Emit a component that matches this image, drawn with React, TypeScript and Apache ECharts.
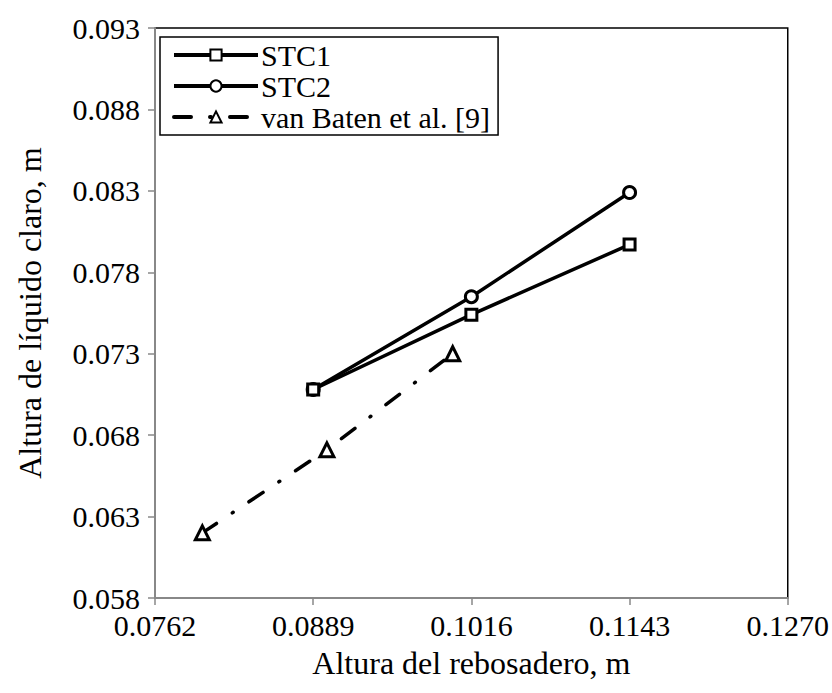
import React, { useEffect, useRef } from "react";
import * as echarts from "echarts";

const stc1X = [0.0889, 0.1016, 0.1143];
const stc1Y = [0.0708, 0.0754, 0.0797];
const stc2X = [0.0889, 0.1016, 0.1143];
const stc2Y = [0.0708, 0.0765, 0.0829];
const vbX = [0.0800, 0.0900, 0.1001];
const vbY = [0.0620, 0.0671, 0.0730];

const xTicks = { min: 0.0762, max: 0.127, interval: 0.0127 };
const yTicks = { min: 0.058, max: 0.093, interval: 0.005 };

const FONT = "Liberation Serif";

function pairs(xs: number[], ys: number[]) {
  return xs.map((x, i) => [x, ys[i]]);
}

export default function App() {
  const ref = useRef<HTMLDivElement>(null);
  useEffect(() => {
    if (!ref.current) return;
    const chart = echarts.init(ref.current, null, { renderer: "svg" });
    const lineW = 3.5;
    const txt = (size: number) => ({
      fontFamily: FONT,
      fontSize: size,
      fontWeight: "normal" as const,
      fontStyle: "normal" as const,
      color: "#000",
    });
    chart.setOption({
      animation: false,
      backgroundColor: "#fff",
      textStyle: txt(30),
      grid: {
        left: 155,
        right: 44,
        top: 28,
        bottom: 95,
        show: true,
        borderColor: "#000",
        borderWidth: 1.5,
        backgroundColor: "transparent",
      },
      legend: {
        left: 160,
        top: 37,
        orient: "vertical",
        itemWidth: 84,
        itemHeight: 14,
        itemGap: 1,
        padding: [3, 8, 3, 12],
        borderColor: "#000",
        borderWidth: 1.5,
        lineStyle: { width: 4, color: "#000" },
        textStyle: { ...txt(30), padding: [0, 0, 0, -2] },
        data: ["STC1", "STC2", "van Baten et al. [9]"],
      },
      xAxis: {
        type: "value",
        min: xTicks.min,
        max: xTicks.max,
        interval: xTicks.interval,
        name: "Altura del rebosadero, m",
        nameLocation: "middle",
        nameGap: 49,
        nameTextStyle: txt(32),
        axisLine: { show: true, lineStyle: { color: "#888", width: 2 } },
        axisTick: { show: true, length: 7, lineStyle: { color: "#888", width: 1.5 } },
        axisLabel: {
          ...txt(30),
          margin: 12,
          formatter: (v: number) => v.toFixed(4),
        },
        splitLine: { show: false },
      },
      yAxis: {
        type: "value",
        min: yTicks.min,
        max: yTicks.max,
        interval: yTicks.interval,
        name: "Altura de líquido claro, m",
        nameLocation: "middle",
        nameGap: 109,
        nameTextStyle: txt(32),
        axisLine: { show: true, lineStyle: { color: "#888", width: 2 } },
        axisTick: { show: true, length: 7, lineStyle: { color: "#888", width: 1.5 } },
        axisLabel: {
          ...txt(30),
          margin: 15,
          formatter: (v: number) => v.toFixed(3),
        },
        splitLine: { show: false },
      },
      series: [
        {
          name: "STC1",
          type: "line",
          data: pairs(stc1X, stc1Y),
          symbol: "rect",
          symbolSize: 11,
          lineStyle: { color: "#000", width: lineW },
          itemStyle: { color: "#fff", borderColor: "#000", borderWidth: 3 },
          z: 3,
        },
        {
          name: "STC2",
          type: "line",
          data: pairs(stc2X, stc2Y),
          symbol: "circle",
          symbolSize: 12,
          lineStyle: { color: "#000", width: lineW },
          itemStyle: { color: "#fff", borderColor: "#000", borderWidth: 3 },
          z: 2,
        },
        {
          name: "van Baten et al. [9]",
          type: "line",
          data: pairs(vbX, vbY),
          symbol: "triangle",
          symbolSize: 14,
          lineStyle: { color: "#000", width: lineW, type: [17, 19, 1, 19], cap: "round" },
          itemStyle: { color: "#fff", borderColor: "#000", borderWidth: 3 },
          z: 2,
        },
      ],
    });
    return () => chart.dispose();
  }, []);
  return (
    <div
      ref={ref}
      style={{ position: "fixed", left: 0, top: 0, width: 832, height: 693, fontFamily: FONT }}
    />
  );
}
